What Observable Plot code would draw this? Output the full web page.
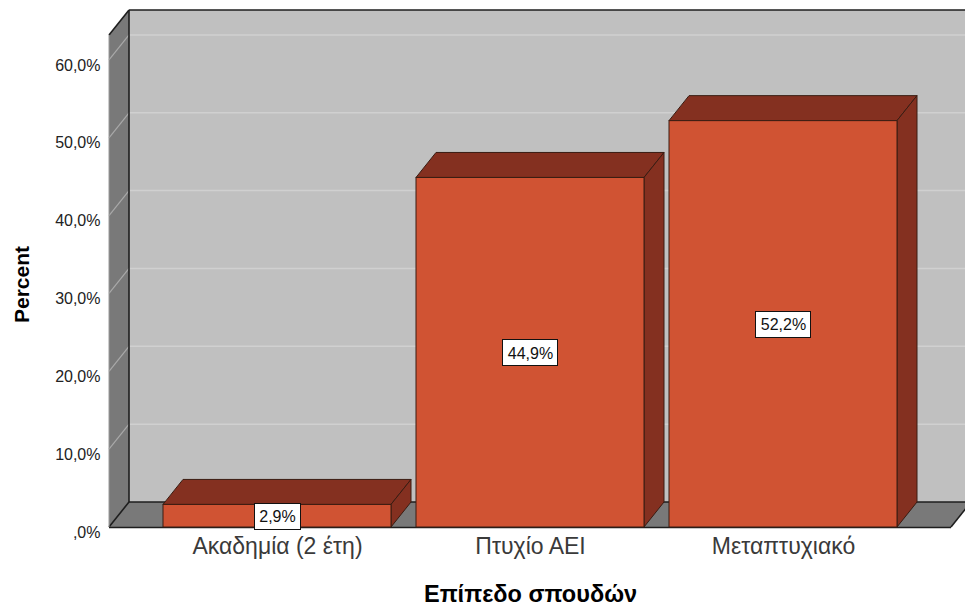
<!DOCTYPE html>
<html>
<head>
<meta charset="utf-8">
<script src="https://cdn.jsdelivr.net/npm/d3@7"></script>
<script src="https://cdn.jsdelivr.net/npm/@observablehq/plot@0.6"></script>
<style>
  body { margin: 0; background: #ffffff; }
  #chart svg { display: block; }
</style>
</head>
<body>
<div id="chart"></div>
<script>
// Education level distribution (percent of respondents)
const categories = ["Ακαδημία (2 έτη)", "Πτυχίο ΑΕΙ", "Μεταπτυχιακό"];
const percents = [2.9, 44.9, 52.2];
const percentLabels = ["2,9%", "44,9%", "52,2%"];
const yTicks = [0, 10, 20, 30, 40, 50, 60];
const yTickLabels = [",0%", "10,0%", "20,0%", "30,0%", "40,0%", "50,0%", "60,0%"];

const rows = categories.map((category, i) => ({
  category,
  percent: percents[i],
  label: percentLabels[i]
}));

// Oblique offset used for the pseudo-3D depth (pixels)
const DX = 20, DY = -25;
const FONT = "'Liberation Sans', Arial, sans-serif";
const LABEL_SIZE = 16;

const COLORS = {
  wall: "#c0c0c0",
  side: "#797979",
  grid: "#d0d0d0",
  sideGrid: "#a9a9a9",
  frame: "#1e1e1e",
  front: "#d05333",
  dark: "#843020",
  barEdge: "#3a1c12"
};

const bandwidthOf = (s) => typeof s.bandwidth === "function" ? s.bandwidth() : s.bandwidth;
const pts = (arr) => arr.map((p) => p.join(",")).join(" ");

// Back wall, left wall, floor and their gridlines
function chartBox(index, scales) {
  const x = scales.x, y = scales.y;
  const [x0, x1] = x.range();
  const [yBase, yTop] = y.range();
  const g = d3.create("svg:g");

  g.append("rect")
    .attr("x", x0 + DX).attr("y", yTop + DY)
    .attr("width", x1 - x0).attr("height", yBase - yTop)
    .attr("fill", COLORS.wall);

  for (const t of yTicks) {
    if (t === 0) continue;
    g.append("line")
      .attr("x1", x0 + DX).attr("x2", x1 + DX)
      .attr("y1", y(t) + DY).attr("y2", y(t) + DY)
      .attr("stroke", COLORS.grid).attr("stroke-width", 1.5);
  }

  // left wall
  g.append("polygon")
    .attr("points", pts([[x0, yTop], [x0 + DX, yTop + DY], [x0 + DX, yBase + DY], [x0, yBase]]))
    .attr("fill", COLORS.side);
  for (const t of yTicks) {
    if (t === 0) continue;
    g.append("line")
      .attr("x1", x0).attr("y1", y(t))
      .attr("x2", x0 + DX).attr("y2", y(t) + DY)
      .attr("stroke", COLORS.sideGrid).attr("stroke-width", 1.2);
  }

  // floor
  g.append("polygon")
    .attr("points", pts([[x0, yBase], [x0 + DX, yBase + DY], [x1 + DX, yBase + DY], [x1, yBase]]))
    .attr("fill", COLORS.side);

  // frame edges
  const edges = [
    [[x0 + DX, yTop + DY], [x1 + DX + 40, yTop + DY]],
    [[x0, yTop], [x0 + DX, yTop + DY]],
    [[x0 + DX, yTop + DY], [x0 + DX, yBase + DY]],
    [[x0 + DX, yBase + DY], [x1 + DX, yBase + DY]],
    [[x0, yBase + 0.5], [x1, yBase + 0.5]],
    [[x0, yBase], [x0 + DX, yBase + DY]],
    [[x1, yBase], [x1 + DX, yBase + DY]]
  ];
  for (const [a, b] of edges) {
    g.append("line")
      .attr("x1", a[0]).attr("y1", a[1]).attr("x2", b[0]).attr("y2", b[1])
      .attr("stroke", COLORS.frame).attr("stroke-width", 1.6);
  }
  g.append("line")
    .attr("x1", x0).attr("y1", yTop).attr("x2", x0).attr("y2", yBase)
    .attr("stroke", "#9a9a9a").attr("stroke-width", 1);
  return g.node();
}

// Top and side faces of each bar
function barDepth(index, scales) {
  const x = scales.x, y = scales.y;
  const bw = bandwidthOf(x);
  const y0 = y(0);
  const g = d3.create("svg:g");
  for (const d of rows) {
    const bx0 = x(d.category), bx1 = bx0 + bw, yv = y(d.percent);
    g.append("polygon")
      .attr("points", pts([[bx0, yv], [bx0 + DX, yv + DY], [bx1 + DX, yv + DY], [bx1, yv]]))
      .attr("fill", COLORS.dark).attr("stroke", COLORS.barEdge).attr("stroke-width", 1)
      .attr("stroke-linejoin", "round");
    g.append("polygon")
      .attr("points", pts([[bx1, yv], [bx1 + DX, yv + DY], [bx1 + DX, y0 + DY], [bx1, y0]]))
      .attr("fill", COLORS.dark).attr("stroke", COLORS.barEdge).attr("stroke-width", 1)
      .attr("stroke-linejoin", "round");
  }
  return g.node();
}

// White boxes behind the value labels
const measureCtx = document.createElement("canvas").getContext("2d");
function labelBoxes(index, scales) {
  const x = scales.x, y = scales.y;
  const bw = bandwidthOf(x);
  const g = d3.create("svg:g");
  measureCtx.font = `${LABEL_SIZE}px ${FONT}`;
  for (const d of rows) {
    const cx = x(d.category) + bw / 2;
    const cy = (y(d.percent) + y(0)) / 2;
    const w = measureCtx.measureText(d.label).width + 10;
    const h = 26;
    g.append("rect")
      .attr("x", Math.round(cx - w / 2) + 0.5).attr("y", Math.round(cy - h / 2) + 0.5)
      .attr("width", Math.round(w)).attr("height", h)
      .attr("fill", "#ffffff").attr("stroke", "#111111").attr("stroke-width", 1);
  }
  return g.node();
}

const chart = Plot.plot({
  width: 965,
  height: 613,
  marginLeft: 109,
  marginRight: 14,
  marginTop: 35,
  marginBottom: 86,
  style: { fontFamily: FONT, background: "#ffffff", overflow: "visible" },
  x: { type: "band", domain: categories, paddingInner: 0.1, paddingOuter: 0.213, axis: null },
  y: { domain: [0, 63.2], axis: null },
  marks: [
    chartBox,
    barDepth,
    Plot.barY(rows, {
      x: "category", y: "percent",
      fill: COLORS.front, stroke: COLORS.barEdge, strokeWidth: 1
    }),
    labelBoxes,
    Plot.text(rows, {
      x: "category",
      y: (d) => d.percent / 2,
      text: "label",
      fontSize: LABEL_SIZE, fill: "#111111", dy: 1
    }),
    Plot.text(yTicks, {
      y: (d) => d,
      text: (d, i) => yTickLabels[i],
      frameAnchor: "left", textAnchor: "end",
      dx: -9, dy: 5, fontSize: 16, fill: "#222222"
    }),
    Plot.text(categories, {
      x: (d) => d,
      text: (d) => d,
      frameAnchor: "bottom", dy: 26,
      fontSize: 23, fill: "#3a3a3a"
    }),
    Plot.text(["Επίπεδο σπουδών"], {
      frameAnchor: "bottom", dy: 74,
      fontSize: 23.5, fontWeight: "bold", fill: "#000000"
    }),
    Plot.text(["Percent"], {
      frameAnchor: "left", textAnchor: "middle",
      dx: -87, dy: 3, rotate: -90,
      fontSize: 21, fontWeight: "bold", fill: "#000000"
    })
  ]
});

document.getElementById("chart").appendChild(chart);
</script>
</body>
</html>
